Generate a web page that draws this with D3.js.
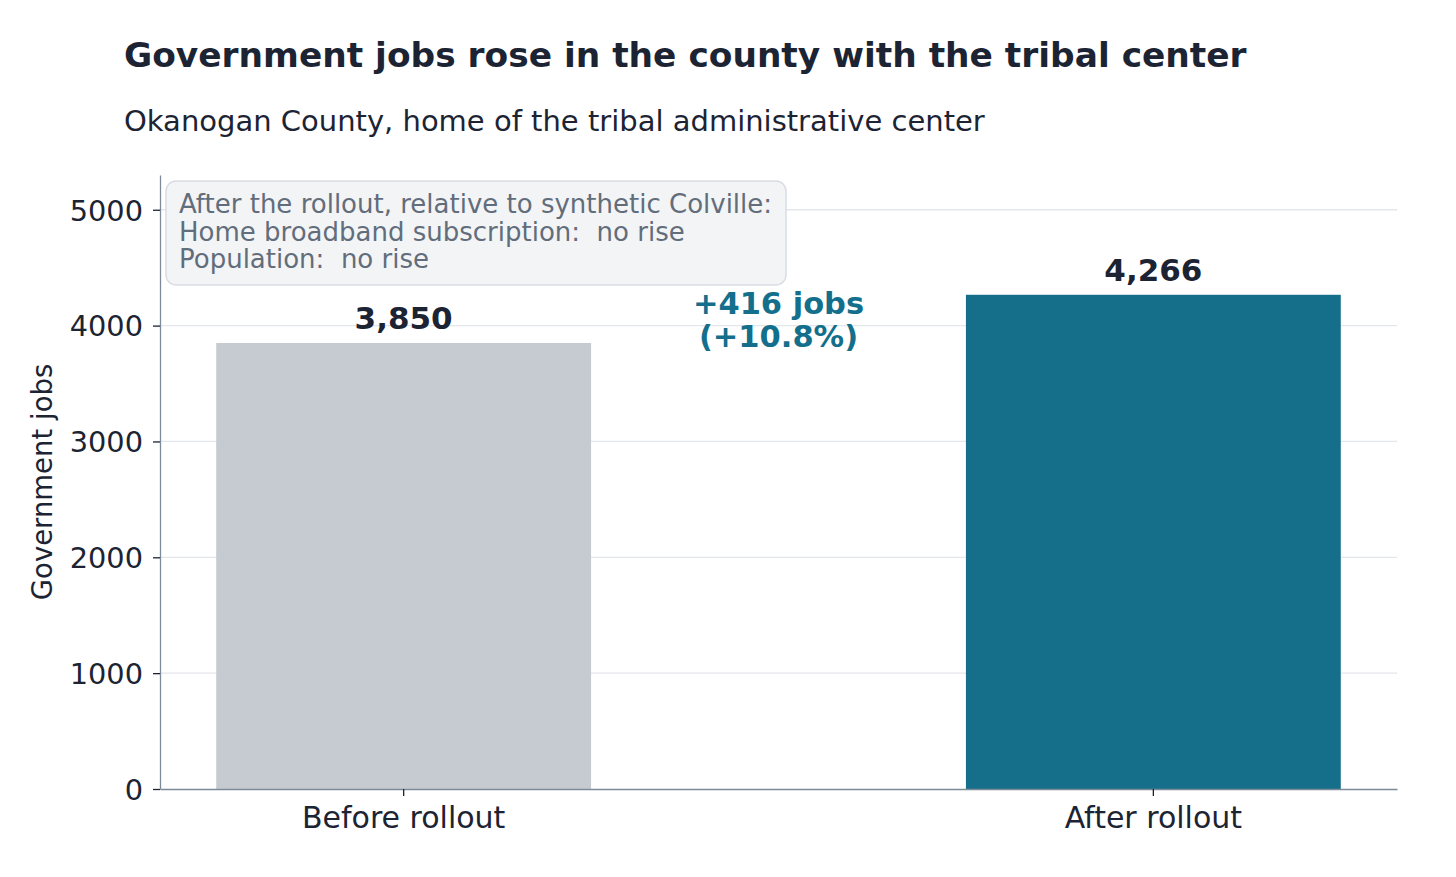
<!DOCTYPE html>
<html>
<head>
<meta charset="utf-8">
<script src="https://cdn.jsdelivr.net/npm/d3@7"></script>
<style>
  html, body { margin: 0; padding: 0; background: #ffffff; }
  svg { display: block; font-family: "DejaVu Sans", sans-serif; }
  .pre { white-space: pre; }
</style>
</head>
<body>
<svg id="chart" width="1456" height="877"></svg>
<script>
// ---- data ----
const categories = ["Before rollout", "After rollout"];
const values = [3850, 4266];
const barColors = ["#c6cbd2", "#156f8a"];
const yTicks = [0, 1000, 2000, 3000, 4000, 5000];
const yMax = 5300;
const titleText = "Government jobs rose in the county with the tribal center";
const subtitleText = "Okanogan County, home of the tribal administrative center";
const yLabelText = "Government jobs";
const noteLines = [
  "After the rollout, relative to synthetic Colville:",
  "Home broadband subscription:  no rise",
  "Population:  no rise"
];

// ---- layout ----
const svg = d3.select("#chart");
const plot = { left: 160, right: 1397, top: 175, bottom: 789 };
const dark = "#1c2433";
const spine = "#7d8a99";

const x = d3.scaleBand()
  .domain(categories)
  .range([plot.left, plot.right])
  .paddingInner(0.5)
  .paddingOuter(0.075);

const y = d3.scaleLinear()
  .domain([0, yMax])
  .range([plot.bottom, plot.top]);

// title & subtitle
svg.append("text")
  .attr("x", 124).attr("y", 67)
  .attr("font-size", 34.4).attr("font-weight", "bold")
  .attr("fill", dark)
  .text(titleText);

svg.append("text")
  .attr("x", 124).attr("y", 131)
  .attr("font-size", 29)
  .attr("fill", dark)
  .text(subtitleText);

// gridlines
svg.append("g")
  .selectAll("line")
  .data(yTicks.filter(d => d > 0))
  .join("line")
  .attr("x1", plot.left).attr("x2", plot.right)
  .attr("y1", d => y(d)).attr("y2", d => y(d))
  .attr("stroke", "#e3e6ea").attr("stroke-width", 1.3);

// bars
svg.append("g")
  .selectAll("rect")
  .data(values)
  .join("rect")
  .attr("x", (d, i) => x(categories[i]))
  .attr("width", x.bandwidth())
  .attr("y", d => y(d))
  .attr("height", d => y(0) - y(d))
  .attr("fill", (d, i) => barColors[i]);

// value labels
svg.append("g")
  .selectAll("text")
  .data(values)
  .join("text")
  .attr("x", (d, i) => x(categories[i]) + x.bandwidth() / 2)
  .attr("y", d => y(d) - 14)
  .attr("text-anchor", "middle")
  .attr("font-size", 31).attr("font-weight", "bold")
  .attr("fill", dark)
  .text(d => d3.format(",")(d));

// delta annotation
const diff = values[1] - values[0];
const pct = diff / values[0] * 100;
const midX = (x(categories[0]) + x(categories[1]) + x.bandwidth()) / 2;
const midY = y((values[0] + values[1]) / 2);
const delta = svg.append("text")
  .attr("text-anchor", "middle")
  .attr("font-size", 30.5).attr("font-weight", "bold")
  .attr("fill", "#136f8b");
delta.append("tspan").attr("x", midX).attr("y", midY - 5)
  .text((diff >= 0 ? "+" : "") + d3.format(",")(diff) + " jobs");
delta.append("tspan").attr("x", midX).attr("y", midY + 28)
  .text("(" + (pct >= 0 ? "+" : "") + pct.toFixed(1) + "%)");

// y axis
const yAxis = svg.append("g")
  .attr("transform", `translate(${plot.left},0)`)
  .call(d3.axisLeft(y).tickValues(yTicks).tickSize(7).tickSizeOuter(0).tickPadding(10).tickFormat(d3.format("d")));
yAxis.select(".domain").attr("stroke", spine).attr("stroke-width", 1.3);
yAxis.selectAll(".tick line").attr("stroke", dark).attr("stroke-width", 1.3);
yAxis.selectAll(".tick text")
  .attr("font-family", "DejaVu Sans").attr("font-size", 28.8).attr("fill", dark)
  .attr("dy", "0.36em");

// x axis
const xAxis = svg.append("g")
  .attr("transform", `translate(0,${plot.bottom})`)
  .call(d3.axisBottom(x).tickSize(7).tickSizeOuter(0).tickPadding(11));
xAxis.select(".domain").attr("stroke", spine).attr("stroke-width", 1.3);
xAxis.selectAll(".tick line").attr("stroke", dark).attr("stroke-width", 1.3);
xAxis.selectAll(".tick text")
  .attr("font-family", "DejaVu Sans").attr("font-size", 30).attr("fill", dark);

// y label
svg.append("text")
  .attr("transform", `translate(52,${(plot.top + plot.bottom) / 2}) rotate(-90)`)
  .attr("text-anchor", "middle")
  .attr("font-size", 27.5)
  .attr("fill", dark)
  .text(yLabelText);

// note box
const note = svg.append("g");
note.append("rect")
  .attr("x", 166).attr("y", 181).attr("width", 620).attr("height", 104)
  .attr("rx", 10).attr("ry", 10)
  .attr("fill", "#f3f4f6").attr("stroke", "#d9dde3").attr("stroke-width", 1.5);
note.append("g")
  .selectAll("text")
  .data(noteLines)
  .join("text")
  .attr("class", "pre")
  .attr("x", 179)
  .attr("y", (d, i) => 213 + i * 27.5)
  .attr("font-size", 26)
  .attr("fill", "#626d7b")
  .text(d => d);
</script>
</body>
</html>
